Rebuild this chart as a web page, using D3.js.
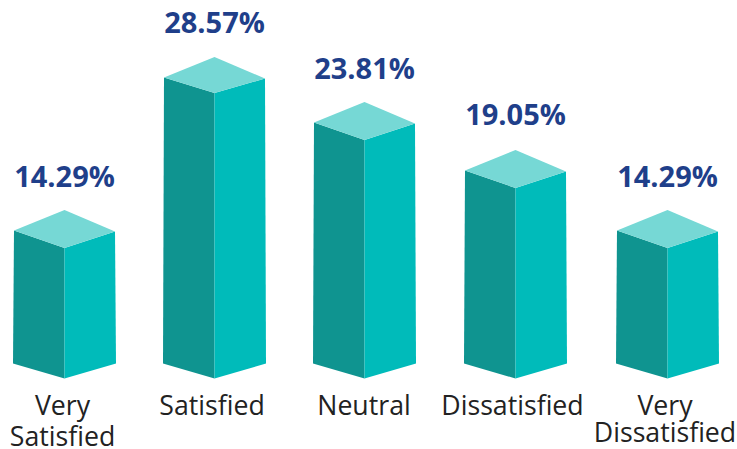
<!DOCTYPE html>
<html>
<head>
<meta charset="utf-8">
<script src="https://cdn.jsdelivr.net/npm/d3@7"></script>
<style>
    html, body { margin: 0; padding: 0; background: #fff; }
    svg { display: block; }
    text { font-family: "Open Sans", sans-serif; }
</style>
</head>
<body>
<svg id="bar-chart"></svg>
<script>
// Chart data
const categories = ["Very Satisfied", "Satisfied", "Neutral", "Dissatisfied", "Very Dissatisfied"];
const label_lines = [["Very", "Satisfied"], ["Satisfied"], ["Neutral"], ["Dissatisfied"], ["Very", "Dissatisfied"]];
const percentages = [14.29, 28.57, 23.81, 19.05, 14.29];

// Dimensions of the chart
const chart_width = 737, chart_height = 449;
const half_bar = 50.5, flare = 1;       // the bars get slightly wider at the bottom
const base_y = 378.5, side_drop = 15;   // bottom of the front edge, rise of the outer bottom corners
const lid_side = 17.5, lid_back = 38;   // shape of the top face

// Centres of the bars, they are not evenly spaced in the picture
const x_scale = d3.scaleOrdinal()
    .domain(categories)
    .range([64.5, 214.5, 364.5, 515.5, 667.5]);

// Label placement differs slightly per category (centres and line spacing)
const label_x_scale = d3.scaleOrdinal()
    .domain(categories)
    .range([62.5, 212, 364, 512.5, 665]);
const label_line_gap = d3.scaleOrdinal()
    .domain(categories)
    .range([31, 0, 0, 0, 26.5]);

// The top face of the tallest bar is a bit flatter than the others
const lid_trim = d3.scaleOrdinal()
    .domain(categories)
    .range([0, 2, 0, 0, 0]);

// The drawn heights are not proportional to the values, so the scale is calibrated on each level
const y_scale = d3.scaleLinear()
    .domain([0, 14.29, 19.05, 23.81, 28.57])
    .range([base_y, 248, 188, 140, 93]);

// Same idea for the baselines of the percentages
const value_y_scale = d3.scaleLinear()
    .domain([14.29, 19.05, 23.81, 28.57])
    .range([187, 125, 78.5, 33]);

const svg = d3.select("#bar-chart")
    .attr("width", chart_width)
    .attr("height", chart_height);

const bar_data = categories.map((c, i) => ({ category: c, value: percentages[i], lines: label_lines[i] }));

const bars = svg.selectAll("g.bar")
    .data(bar_data)
    .join("g")
    .attr("class", "bar");

// Left face of the bar
bars.append("polygon")
    .attr("fill", "#0f9490")
    .attr("points", function (d) {
        const cx = x_scale(d.category), top = y_scale(d.value), side = lid_side - lid_trim(d.category);
        return [[cx - half_bar, top - side], [cx, top], [cx, base_y], [cx - half_bar - flare, base_y - side_drop]].join(" ");
    });

// Right face of the bar
bars.append("polygon")
    .attr("fill", "#00bbba")
    .attr("points", function (d) {
        const cx = x_scale(d.category), top = y_scale(d.value), side = lid_side - lid_trim(d.category);
        return [[cx, top], [cx + half_bar, top - side + 1], [cx + half_bar + flare, base_y - side_drop], [cx, base_y]].join(" ");
    });

// Top face of the bar
bars.append("polygon")
    .attr("fill", "#76d8d5")
    .attr("points", function (d) {
        const cx = x_scale(d.category), top = y_scale(d.value), trim = lid_trim(d.category), side = lid_side - trim;
        return [[cx - half_bar, top - side], [cx, top - lid_back + trim], [cx + half_bar, top - side + 1], [cx, top]].join(" ");
    });

// Percentage above every bar
bars.append("text")
    .attr("x", d => x_scale(d.category))
    .attr("y", d => value_y_scale(d.value))
    .attr("text-anchor", "middle")
    .attr("font-size", 29)
    .attr("font-weight", 700)
    .attr("fill", "#1f3f8a")
    .text(d => d.value.toFixed(2) + "%");

// Category names under the bars
bars.append("text")
    .attr("text-anchor", "middle")
    .attr("font-size", 26.7)
    .attr("fill", "#222222")
    .selectAll("tspan")
    .data(d => d.lines.map(line => ({ line: line, category: d.category })))
    .join("tspan")
    .attr("x", d => label_x_scale(d.category))
    .attr("y", (d, i) => 415 + i * label_line_gap(d.category))
    .text(d => d.line);
</script>
</body>
</html>
